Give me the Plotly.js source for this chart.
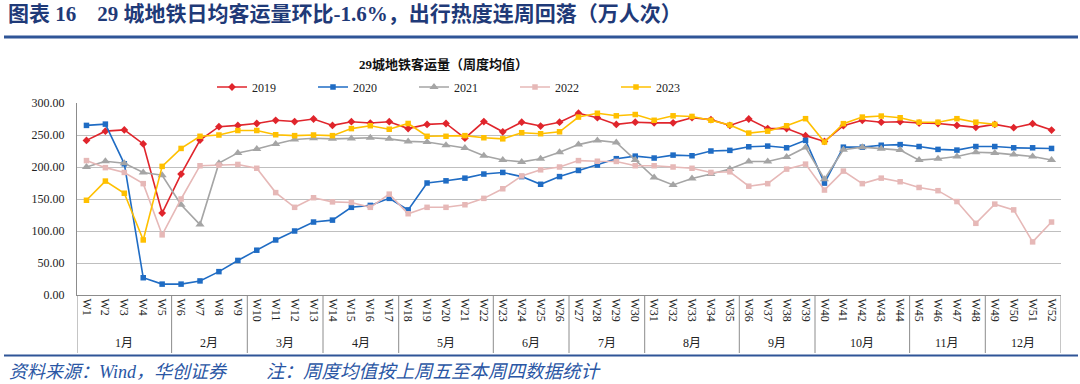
<!DOCTYPE html>
<html>
<head>
<meta charset="utf-8">
<script src="https://cdn.plot.ly/plotly-3.0.1.min.js"></script>
<style>html,body{margin:0;padding:0;background:#fff;}#chart{width:1080px;height:384px;}</style>
</head>
<body>
<div id="chart"></div>
<script>
const weeks = ['W1','W2','W3','W4','W5','W6','W7','W8','W9','W10','W11','W12','W13','W14','W15','W16','W17','W18','W19','W20','W21','W22','W23','W24','W25','W26','W27','W28','W29','W30','W31','W32','W33','W34','W35','W36','W37','W38','W39','W40','W41','W42','W43','W44','W45','W46','W47','W48','W49','W50','W51','W52'];
const months = ['1月','2月','3月','4月','5月','6月','7月','8月','9月','10月','11月','12月'];
const monthWeeks = [5,4,4,4,5,4,4,5,4,5,4,4];

const y2019 = [241.6,256,258,236,128,189,242,263,265,268,273,271,275,265,270.8,268.7,270.8,260,266.6,268,245,271,255,270,264,270,284,277,266.6,270,269,269,277,274,265,275,260,260,249,240,264.5,273,270,270.8,268.7,268,265,262,266.6,261.4,267.7,257.7];
const y2020 = [265,267,205,27,17,17,22,36.5,54,70,86,100,114,117,137,140,151,133,175,178.4,182.6,189,191.5,185,173,185,194.6,203,213,217,214,218.6,217.6,225,226,231.6,232.7,230,241.6,174.8,231,231,234,235,232,227.5,226.4,232,232,230,230,229];
const y2021 = [200,209,206,191.5,187,141,110,206,222,228,236,243,245,244,244.7,245.7,244,240,239,234,229.6,217.6,211,208,213,223,235,241.6,238.4,211,183.6,172,182,189,196.7,208.7,208.7,215.5,230.6,181,227,231,228.5,226.4,210.8,213,216.5,223,222,219.6,216.5,211];
const y2022 = [210,199,191.5,174,94,150,202,203,204,198,160,137,152,145.5,144.5,137,157.6,127,137,137,141,151,166,186,195.6,200,210,209,208.7,202,202,200,198,191.5,192.5,170,174,196.7,204.5,164,193.6,174,182.6,177,168,163,146,112,142,133,83,114];
const y2023 = [148,178,159,86,201,229,248,250,257,257,250.4,249,250,249,260,264.5,259,268,248,248,249,245.7,244,253.6,252,255,278,284,280,282,273,280,279,273,265.6,253,256,264.5,275.5,239,267.7,278,279.6,277,270,270,275.5,270,266.6];

const seriesNames = ['2019','2020','2021','2022','2023'];
const seriesData = [y2019,y2020,y2021,y2022,y2023];
const seriesColors = ['#e0252c','#1f6cc4','#a5a5a5','#e6b8b7','#ffc000'];
const seriesSymbols = ['diamond','square','triangle-up','square','square'];
const seriesSizes = [6,5.5,8,5.5,5.5];

const serif = '"Liberation Serif","Times New Roman","Noto Sans CJK SC",serif';

const traces = seriesData.map((d,i)=>({
  type:'scatter', mode:'lines+markers', name:seriesNames[i],
  x: weeks.slice(0,d.length), y:d,
  line:{color:seriesColors[i], width:1.6},
  marker:{color:seriesColors[i], symbol:seriesSymbols[i], size:seriesSizes[i]}
}));

const L=77, R=1061, T=103, B=295;
const px = v => (v-L)/(R-L);
const py = v => (B-v)/(B-T);

const shapes = [];
const annotations = [];
let start = 0;
shapes.push({type:'line', xref:'x', yref:'paper', x0:-0.5, x1:-0.5, y0:0, y1:py(353), line:{color:'#8c8c8c', width:1}});
months.forEach((m,i)=>{
  const n = monthWeeks[i];
  const end = start + n;
  shapes.push({type:'line', xref:'x', yref:'paper', x0:end-0.5, x1:end-0.5, y0:0, y1:py(353), line:{color:'#8c8c8c', width:1}});
  annotations.push({xref:'x', yref:'paper', x:(start+end-1)/2, y:py(343), text:m, showarrow:false,
    font:{family:serif, size:12, color:'#222'}, xanchor:'center', yanchor:'middle'});
  start = end;
});
shapes.push({type:'line', xref:'paper', yref:'paper', x0:px(4), x1:px(1078), y0:py(37), y1:py(37), line:{color:'#2f5597', width:3}});
shapes.push({type:'line', xref:'paper', yref:'paper', x0:px(4), x1:px(1078), y0:py(355.5), y1:py(355.5), line:{color:'#2f5597', width:2}});

annotations.push({xref:'paper', yref:'paper', x:px(6), y:py(14), xanchor:'left', yanchor:'middle', showarrow:false,
  text:'<b>图表 16    29 城地铁日均客运量环比-1.6%，出行热度连周回落（万人次）</b>',
  font:{family:serif, size:21, color:'#1f3a78'}});
annotations.push({xref:'paper', yref:'paper', x:px(443), y:py(65), xanchor:'center', yanchor:'middle', showarrow:false,
  text:'<b>29城地铁客运量（周度均值）</b>', font:{family:serif, size:13, color:'#111'}});
annotations.push({xref:'paper', yref:'paper', x:px(7), y:py(372), xanchor:'left', yanchor:'middle', showarrow:false,
  text:'<i>资料来源：Wind，华创证券</i>', font:{family:serif, size:18, color:'#2a56a4'}});
annotations.push({xref:'paper', yref:'paper', x:px(264), y:py(372), xanchor:'left', yanchor:'middle', showarrow:false,
  text:'<i>注：周度均值按上周五至本周四数据统计</i>', font:{family:serif, size:18.5, color:'#2a56a4'}});

const layout = {
  width:1080, height:384,
  margin:{l:L, r:1080-R, t:T, b:384-B, pad:0},
  paper_bgcolor:'#fff', plot_bgcolor:'#fff',
  showlegend:true,
  legend:{orientation:'h', x:px(212), y:py(87), xanchor:'left', yanchor:'middle',
    entrywidth:56, entrywidthmode:'pixels', itemwidth:30,
    font:{family:serif, size:12, color:'#222'}, bgcolor:'rgba(0,0,0,0)', traceorder:'normal'},
  xaxis:{type:'category', categoryorder:'array', categoryarray:weeks, range:[-0.5,51.5],
    tickangle:90, tickfont:{family:serif, size:12, color:'#222'},
    showgrid:false, showline:true, linecolor:'#8c8c8c', linewidth:1, ticks:'', zeroline:false, fixedrange:true},
  yaxis:{range:[0,300], dtick:50, tickformat:'.2f', showgrid:true, gridcolor:'#bfbfbf', gridwidth:1,
    showline:true, linecolor:'#8c8c8c', linewidth:1, zeroline:false, ticks:'', ticklabelstandoff:9,
    tickfont:{family:serif, size:12, color:'#222'}, fixedrange:true},
  shapes:shapes, annotations:annotations
};

Plotly.newPlot('chart', traces, layout, {displayModeBar:false, staticPlot:true});
</script>
</body>
</html>
